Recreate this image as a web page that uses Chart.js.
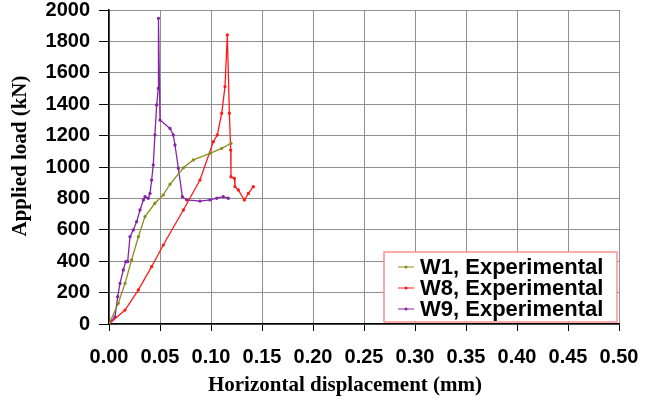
<!DOCTYPE html>
<html>
<head>
<meta charset="utf-8">
<script src="https://cdn.jsdelivr.net/npm/chart.js@4/dist/chart.umd.min.js"></script>
<style>
html,body{margin:0;padding:0;background:#fff;}
#wrap{position:relative;width:652px;height:400px;}
</style>
</head>
<body>
<div id="wrap"><canvas id="c" width="652" height="400"></canvas></div>
<script>
const seriesNames = ["W1, Experimental", "W8, Experimental", "W9, Experimental"];
const xTitle = "Horizontal displacement (mm)";
const yTitle = "Applied load (kN)";
const w1X = [0, 0.0091, 0.0157, 0.0222, 0.0288, 0.0353, 0.045, 0.0532, 0.0598, 0.0729, 0.0827, 0.099, 0.1105, 0.1196];
const w1Y = [0, 132, 259, 408, 556, 684, 769, 822, 890, 995, 1045, 1087, 1119, 1151];
const w8X = [0, 0.0157, 0.0288, 0.0418, 0.0532, 0.0729, 0.0892, 0.1023, 0.1062, 0.1105, 0.1137, 0.116, 0.118, 0.1193, 0.1196, 0.1229, 0.1235, 0.1268, 0.1327, 0.1366, 0.1415];
const w8Y = [0, 89, 217, 365, 503, 726, 917, 1161, 1204, 1342, 1512, 1841, 1342, 1108, 938, 928, 875, 854, 790, 832, 875];
const w9X = [0, 0.0059, 0.0085, 0.0108, 0.014, 0.0164, 0.0183, 0.0206, 0.0238, 0.0271, 0.0304, 0.0337, 0.0353, 0.0385, 0.0402, 0.0418, 0.0434, 0.045, 0.0467, 0.0483, 0.0485, 0.05, 0.0598, 0.063, 0.0647, 0.068, 0.0719, 0.0762, 0.0892, 0.099, 0.1056, 0.112, 0.117];
const w9Y = [0, 46, 174, 259, 344, 397, 397, 556, 599, 652, 726, 790, 811, 801, 832, 917, 1013, 1204, 1395, 1501, 1947, 1299, 1246, 1204, 1140, 992, 811, 790, 783, 790, 801, 811, 801];
const xTicks = [0, 0.05, 0.10, 0.15, 0.20, 0.25, 0.30, 0.35, 0.40, 0.45, 0.50];
const yTicks = [0, 200, 400, 600, 800, 1000, 1200, 1400, 1600, 1800, 2000];
const colors = ["#8c8c1e", "#ff1a1a", "#8424a8"];

function pts(xs, ys){ return xs.map((x,i)=>({x:x, y:ys[i]})); }

const decorPlugin = {
  id: 'decor',
  afterDraw(chart){
    const ctx = chart.ctx;
    ctx.save();
    // axis titles
    ctx.fillStyle = '#000';
    ctx.font = 'bold 21px "Liberation Serif", "Times New Roman", serif';
    ctx.textAlign = 'center';
    ctx.textBaseline = 'middle';
    ctx.fillText(xTitle, 345, 386);
    ctx.translate(21, 156);
    ctx.rotate(-Math.PI / 2);
    ctx.fillText(yTitle, 0, 0);
    ctx.setTransform(1, 0, 0, 1, 0, 0);
    // legend
    const L = 384, T = 252, W = 233, H = 70;
    ctx.fillStyle = '#fff';
    ctx.fillRect(L, T, W, H);
    ctx.strokeStyle = '#ff8f8f';
    ctx.lineWidth = 1.5;
    ctx.strokeRect(L, T, W, H);
    ctx.font = 'bold 22px "Liberation Sans", Arial, sans-serif';
    ctx.textAlign = 'left';
    ctx.textBaseline = 'middle';
    chart.data.datasets.forEach((ds, i) => {
      const y = T + 15 + i * 21;
      ctx.strokeStyle = ds.borderColor;
      ctx.lineWidth = 1;
      ctx.beginPath(); ctx.moveTo(L + 14, y); ctx.lineTo(L + 30, y); ctx.stroke();
      ctx.fillStyle = ds.borderColor;
      ctx.beginPath(); ctx.arc(L + 22, y, 1.5, 0, Math.PI * 2); ctx.fill();
      ctx.fillStyle = '#000';
      ctx.fillText(ds.label, L + 36, y + 1);
    });
    ctx.restore();
  }
};

new Chart(document.getElementById('c'), {
  type: 'scatter',
  data: {
    datasets: [
      {label: seriesNames[0], data: pts(w1X, w1Y), borderColor: colors[0], backgroundColor: colors[0]},
      {label: seriesNames[1], data: pts(w8X, w8Y), borderColor: colors[1], backgroundColor: colors[1]},
      {label: seriesNames[2], data: pts(w9X, w9Y), borderColor: colors[2], backgroundColor: colors[2]}
    ].map(d => Object.assign(d, {showLine: true, borderWidth: 1.3, pointRadius: 1, pointHoverRadius: 1, tension: 0}))
  },
  options: {
    responsive: false,
    animation: false,
    layout: {padding: {left: 0, right: 33, top: 10, bottom: 0}},
    plugins: {legend: {display: false}, tooltip: {enabled: false}},
    scales: {
      x: {
        type: 'linear', min: 0, max: 0.5,
        afterBuildTicks: s => { s.ticks = xTicks.map(v => ({value: v})); },
        afterFit: s => { s.height = 76; s.paddingLeft = 0; s.paddingRight = 0; },
        border: {color: '#000', width: 1.5},
        grid: {color: '#8f8f8f', lineWidth: 1, tickLength: 7, tickColor: '#000'},
        ticks: {color: '#000', padding: 14, maxRotation: 0, font: {family: '"Liberation Sans", Arial, sans-serif', size: 20, weight: 'bold'}, callback: v => v.toFixed(2)},
        title: {display: false}
      },
      y: {
        type: 'linear', min: 0, max: 2000,
        afterBuildTicks: s => { s.ticks = yTicks.map(v => ({value: v})); },
        afterFit: s => { s.width = 109; s.paddingTop = 0; s.paddingBottom = 0; },
        border: {color: '#000', width: 1.5},
        grid: {color: '#8f8f8f', lineWidth: 1, tickLength: 10, tickColor: '#000'},
        ticks: {color: '#000', padding: 9, font: {family: '"Liberation Sans", Arial, sans-serif', size: 20, weight: 'bold'}, callback: v => String(v)},
        title: {display: false}
      }
    }
  },
  plugins: [decorPlugin]
});
</script>
</body>
</html>
